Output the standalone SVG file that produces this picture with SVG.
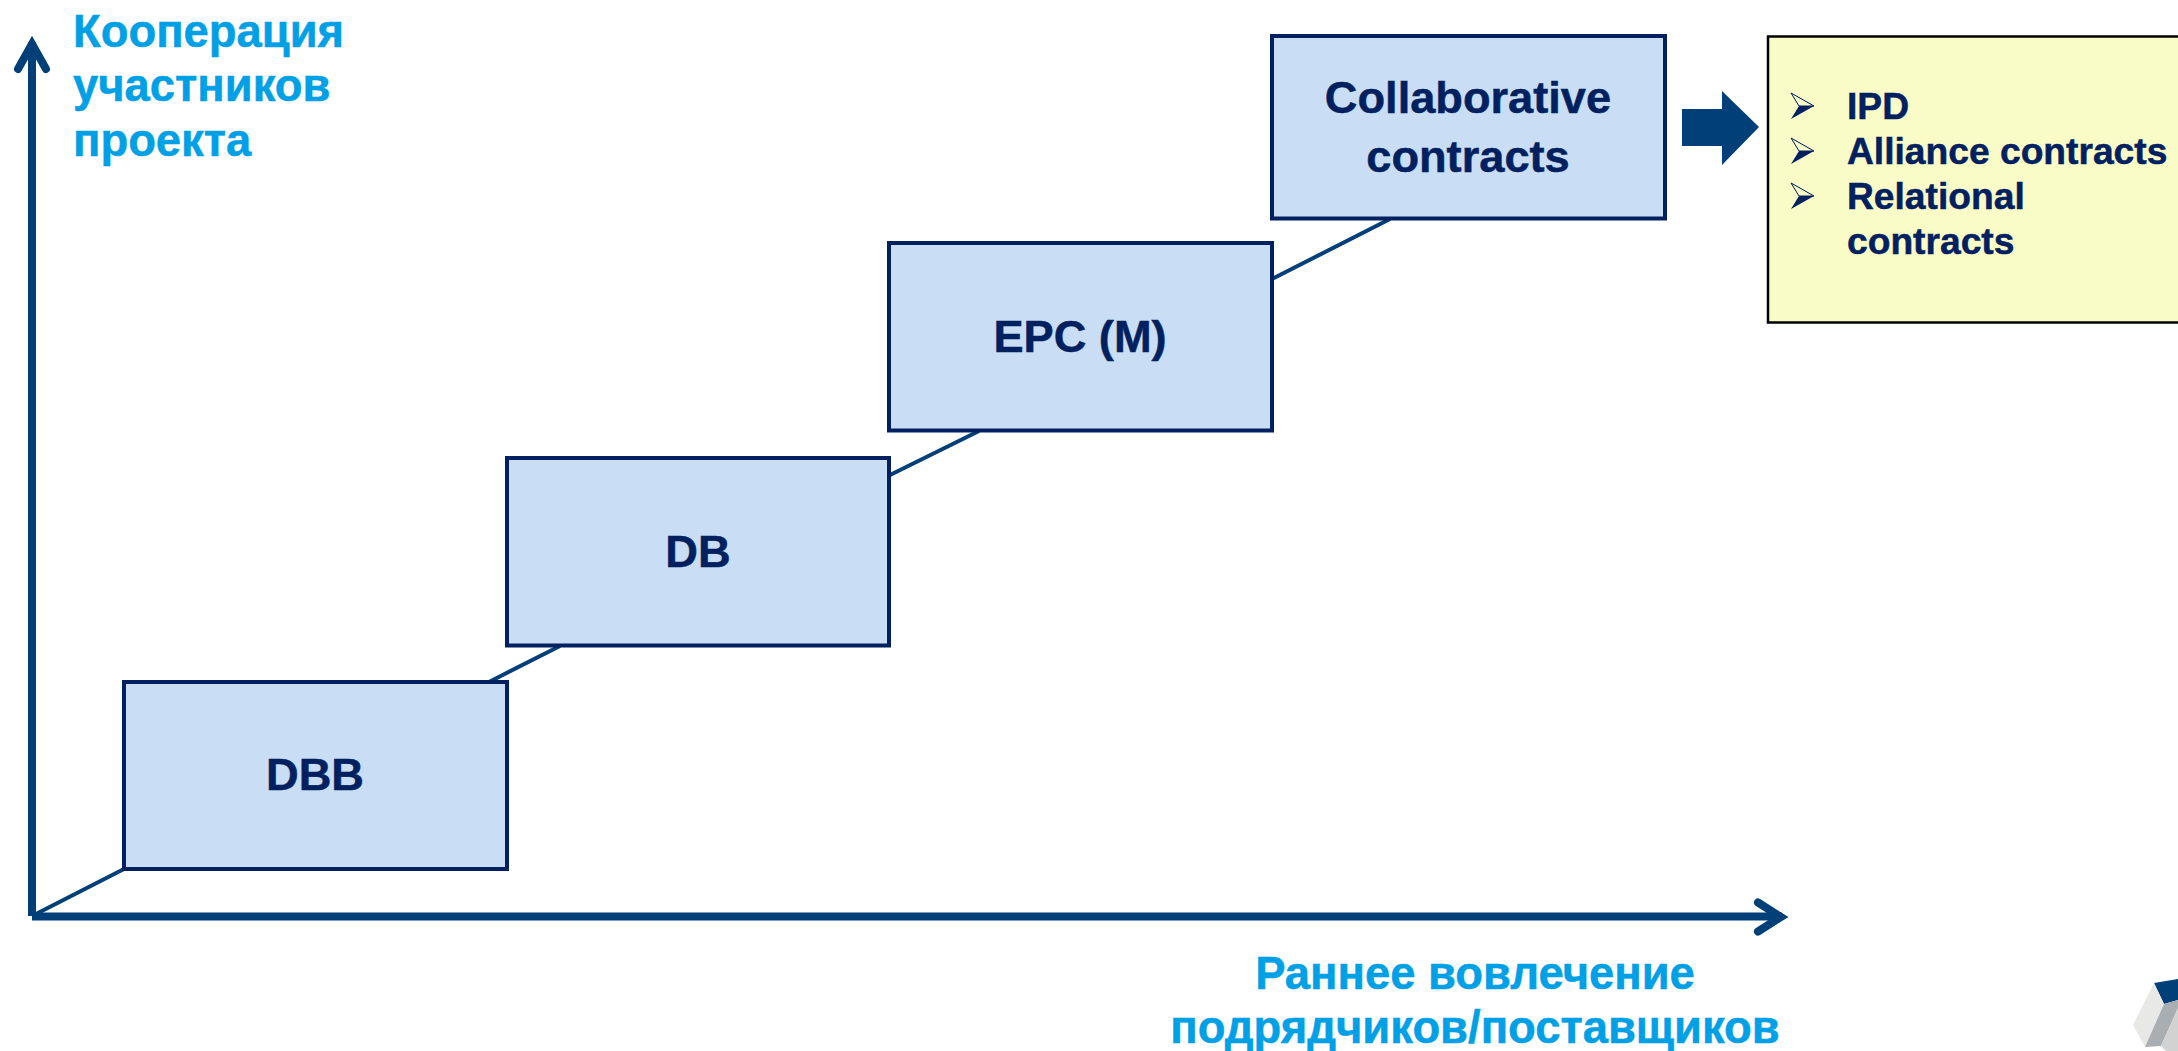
<svg xmlns="http://www.w3.org/2000/svg" width="2178" height="1051" viewBox="0 0 2178 1051">
<style>
text{font-family:"Liberation Sans",Arial,sans-serif;font-weight:700;stroke-width:.5}
.box{fill:#c9def4;stroke:#002060;stroke-width:4}
.t{fill:#002060;stroke:#002060;font-size:45.200px;text-anchor:middle}
.b{fill:#002060;stroke:#002060;font-size:37.200px}
.a{fill:#00a0e6;stroke:#00a0e6;font-size:45.400px}
.axis{fill:none;stroke:#003f78;stroke-width:8;stroke-linecap:round}
.link{stroke:#003f78;stroke-width:4;fill:none}
</style>
<defs>
<g id="bul"><path d="M0 0L23 13L0 26L8 13Z" fill="#002060"/><path d="M0 0L23 13L8 13Z" fill="#fafcc8" stroke="#002060" stroke-width="1"/></g>
</defs>
<rect width="2178" height="1051" fill="#fff"/>
<g id="connectors">
<path class="link" d="M34 915L124 869M489 682L560 646M890 475L979 431M1272 279L1390 219"/>
<path d="M32 916V42" stroke="#003f78" stroke-width="8" fill="none"/>
<path d="M32 916.500H1782" stroke="#003f78" stroke-width="8" fill="none"/>
<path class="axis" d="M18 69L32 44L46 69"/>
<path class="axis" d="M1758 902.500L1781 917L1758 931.500"/>
<path d="M1682 109H1722V91L1759 127L1722 165V146H1682Z" fill="#003f78"/>
</g>
<g id="node-dbb"><rect class="box" x="124" y="682" width="383" height="187"/><text class="t" x="315" y="790">DBB</text></g>
<g id="node-db"><rect class="box" x="507" y="458" width="382" height="187.500"/><text class="t" x="698" y="567">DB</text></g>
<g id="node-epc"><rect class="box" x="889" y="243" width="383" height="187.500"/><text class="t" x="1080" y="352">EPC (M)</text></g>
<g id="node-collab"><rect class="box" x="1272" y="36" width="393" height="182.500"/><text class="t" x="1468" y="113">Collaborative</text><text class="t" x="1468" y="172">contracts</text></g>
<g id="node-list"><rect x="1768" y="36.500" width="420" height="286" fill="#fafcc8" stroke="#000" stroke-width="2.500"/>
<use href="#bul" x="1791" y="93"/><use href="#bul" x="1791" y="138"/><use href="#bul" x="1791" y="183"/>
<text class="b" x="1847" y="119">IPD</text><text class="b" x="1847" y="164">Alliance contracts</text><text class="b" x="1847" y="209">Relational</text><text class="b" x="1847" y="254">contracts</text></g>
<g id="label-y"><text class="a" x="73" y="47">Кооперация</text><text class="a" x="73" y="101">участников</text><text class="a" x="73" y="156">проекта</text></g>
<g id="label-x"><text class="a" x="1475" y="989" text-anchor="middle">Раннее вовлечение</text><text class="a" x="1475" y="1043" text-anchor="middle">подрядчиков/поставщиков</text></g>
<g id="logo"><path d="M2154 983L2178 979V1000L2164 1004Z" fill="#003f78"/><path d="M2154 983L2164 1004L2145 1047L2133 1025Z" fill="#e8e8e6"/><path d="M2164 1004L2178 1000V1008L2161 1046L2145 1047Z" fill="#a9aeb2"/><path d="M2178 1008L2161 1046L2166 1051H2178Z" fill="#d2d2d2"/></g>
</svg>
